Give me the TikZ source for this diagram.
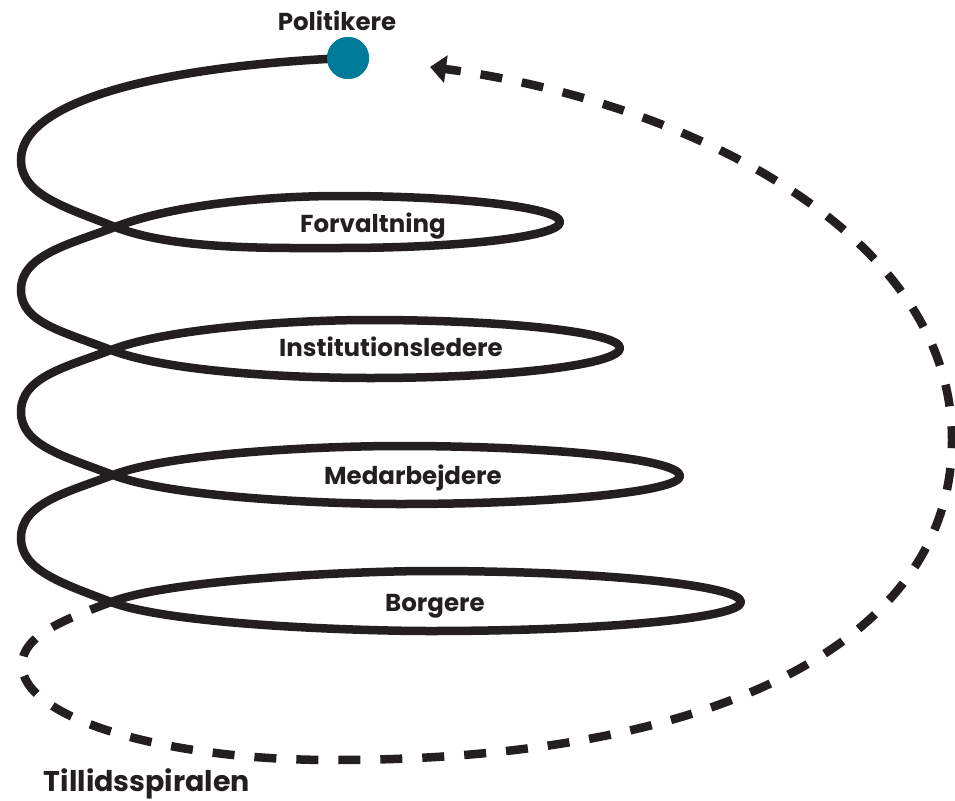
\documentclass[tikz,border=0pt]{standalone}
\usepackage{fontspec}
\newfontfamily\labfont{Poppins}
\usetikzlibrary{arrows.meta}
\definecolor{ink}{HTML}{231F20}
\definecolor{dotteal}{RGB}{0,122,153}
\begin{document}
\begin{tikzpicture}[x=1pt,y=-1pt,
  spiral/.style={draw=ink,line width=8.5pt,line cap=butt,line join=round},
  back/.style={draw=ink,line width=8.5pt,dash pattern=on 22pt off 20pt,
    -{Triangle[length=16pt,width=27pt]}},
  lab/.style={font=\labfont\bfseries\fontsize{24.5}{29}\selectfont,text=ink,anchor=base,inner sep=0pt},
  title/.style={font=\labfont\bfseries\fontsize{28.5}{34}\selectfont,text=ink,anchor=base,inner sep=0pt}]
\useasboundingbox (0,0) rectangle (955,800);
% key points
\coordinate (L0) at (21,160);
\coordinate (C0) at (115,227);
\coordinate (C1) at (111,350);
\coordinate (C2) at (113,475);
\coordinate (C3) at (111,602);
\coordinate (R0) at (560,222);
\coordinate (R1) at (620,348);
\coordinate (R2) at (680,476);
\coordinate (R3) at (741,602);
\coordinate (end) at (430,67);
\node[circle,fill=dotteal,minimum size=42pt,inner sep=0pt] (dot) at (348,58) {};
% spiral
\draw[spiral] (dot.center) .. controls (200,64) and (21,92) .. (L0)
  .. controls (21,195) and (65,207) .. (C0)
  .. controls (175,250) and (270,248) .. (340,248)
  .. controls (461.4,248) and (560,236.4) .. (R0)
  .. controls (560,207.6) and (461.4,196) .. (340,196)
  .. controls (270,196) and (175,204) .. (C0)
  .. controls (70,244) and (21,255) .. (21,290)
  .. controls (21,322) and (61,331) .. (C1)
  .. controls (171,373) and (300,378) .. (370,378)
  .. controls (508,378) and (620,364.6) .. (R1)
  .. controls (620,332.5) and (508,320) .. (370,320)
  .. controls (300,320) and (171,327) .. (C1)
  .. controls (66,367) and (21,377) .. (21,412)
  .. controls (21,445) and (63,456) .. (C2)
  .. controls (173,498) and (330,504) .. (400,504)
  .. controls (554.6,504) and (680,491.5) .. (R2)
  .. controls (680,459.4) and (554.6,446) .. (400,446)
  .. controls (330,446) and (173,452) .. (C2)
  .. controls (68,492) and (21,503) .. (21,538)
  .. controls (21,570) and (61,583) .. (C3)
  .. controls (171,625) and (360,631) .. (430,631)
  .. controls (601.7,631) and (741,618) .. (R3)
  .. controls (741,585.4) and (601.7,571) .. (430,571)
  .. controls (360,571) and (171,579) .. (C3);
\node[circle,fill=dotteal,minimum size=42pt,inner sep=0pt] at (dot.center) {};
% dashed return arrow
\draw[back] (C3) .. controls (66,619) and (22,635) .. (22,665)
  .. controls (22,717) and (160,760) .. (333,760)
  .. controls (720,760) and (952,640) .. (952,440)
  .. controls (952,230) and (680,100) .. (end);
% labels
\node[lab] (politikere) at (337,31) {Politikere};
\node[lab] (forv) at (373,232) {Forvaltning};
\node[lab] (inst) at (391,356) {Institutionsledere};
\node[lab] (medarb) at (413,484) {Medarbejdere};
\node[lab] (borg) at (435,611) {Borgere};
\node[title] (tsp) at (147,791) {Tillidsspiralen};
\end{tikzpicture}
\end{document}
